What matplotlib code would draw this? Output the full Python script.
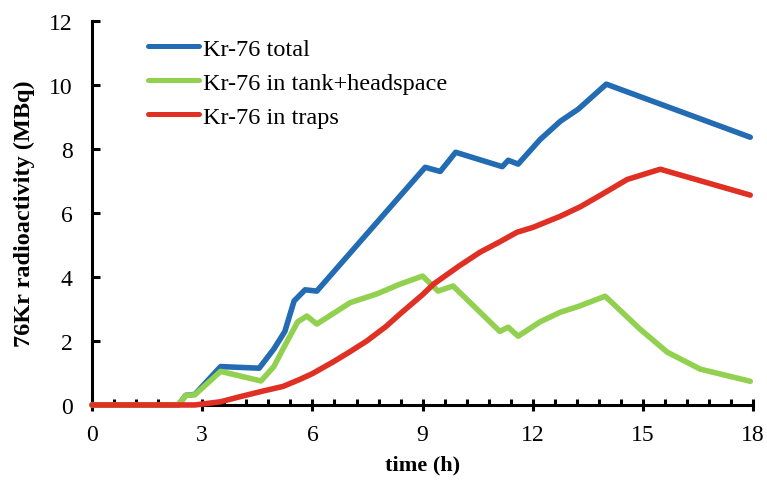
import matplotlib
matplotlib.use("Agg")
import matplotlib.pyplot as plt
from matplotlib.ticker import MultipleLocator

plt.rcParams['font.family'] = ['Liberation Serif', 'DejaVu Serif']

# Kr-76 total activity (MBq) vs time (h)
t_total = [0, 2.35, 2.55, 2.8, 3.5, 4.55, 4.95, 5.25, 5.5, 5.8, 6.12, 7.75, 9.07, 9.48,
           9.9, 11.17, 11.33, 11.6, 12.2, 12.75, 13.24, 14.0, 17.92]
total = [0, 0, 0.3, 0.33, 1.2, 1.15, 1.75, 2.3, 3.25, 3.6, 3.56, 5.7, 7.43, 7.3,
         7.9, 7.45, 7.65, 7.53, 8.3, 8.87, 9.25, 10.03, 8.37]

# Kr-76 in tank + headspace
t_tank = [0, 2.35, 2.55, 2.8, 3.5, 4.6, 4.95, 5.2, 5.6, 5.85, 6.12, 7.03, 7.75, 8.39,
          9.0, 9.42, 9.83, 11.1, 11.33, 11.6, 12.2, 12.75, 13.24, 13.97, 14.92,
          15.66, 16.56, 17.92]
tank = [0, 0, 0.3, 0.32, 1.05, 0.75, 1.2, 1.75, 2.6, 2.78, 2.53, 3.2, 3.47, 3.78,
        4.03, 3.56, 3.72, 2.3, 2.43, 2.15, 2.6, 2.9, 3.08, 3.4, 2.37,
        1.65, 1.12, 0.74]

# Kr-76 in traps
t_traps = [0, 2.8, 3.5, 4.0, 4.6, 5.2, 5.66, 6.0, 6.57, 7.0, 7.48, 8.0, 8.39, 9.0,
           9.3, 10.0, 10.57, 11.1, 11.57, 12.0, 12.75, 13.3, 13.83, 14.57, 15.47, 17.92]
traps = [0, 0, 0.1, 0.25, 0.42, 0.58, 0.8, 0.98, 1.35, 1.65, 2.0, 2.45, 2.85, 3.45,
         3.78, 4.35, 4.78, 5.1, 5.4, 5.55, 5.9, 6.2, 6.55, 7.05, 7.37, 6.56]

labels = ["Kr-76 total", "Kr-76 in tank+headspace", "Kr-76 in traps"]
colors = ["#236BB2", "#92D050", "#E03024"]

fig = plt.figure(figsize=(7.67, 4.81), dpi=100)
ax = fig.add_axes([0.12, 0.156, 0.862, 0.798])

lw = 4.0
for t, v, c, lab in zip([t_total, t_tank, t_traps], [total, tank, traps], colors, labels):
    ax.plot(t, v, color=c, lw=lw, label=lab, solid_capstyle='round',
            solid_joinstyle='round', zorder=3, clip_on=False)

ax.set_xlim(0, 18)
ax.set_ylim(0, 12)
ax.xaxis.set_major_locator(MultipleLocator(3))
ax.xaxis.set_minor_locator(MultipleLocator(0.6))
ax.yaxis.set_major_locator(MultipleLocator(2))

for s in ['top', 'right']:
    ax.spines[s].set_visible(False)
for s in ['left', 'bottom']:
    ax.spines[s].set_linewidth(2.2)

ax.tick_params(axis='x', which='major', direction='inout', length=9, width=2.2,
               labelsize=17, pad=9)
ax.tick_params(axis='x', which='minor', direction='in', length=4, width=2.2)
ax.tick_params(axis='y', which='major', direction='in', length=6, width=2.2,
               labelsize=17, pad=14)

ax.set_xlabel("time (h)", fontsize=16, fontweight='bold', labelpad=7)
ax.set_ylabel("76Kr radioactivity (MBq)", fontsize=17.5, fontweight='bold', labelpad=10)

leg = ax.legend(loc='upper left', bbox_to_anchor=(0.063, 0.995), frameon=False,
                fontsize=17.5, handlelength=2.1, handletextpad=0.15,
                labelspacing=0.5, borderaxespad=0.2)
for line in leg.get_lines():
    line.set_linewidth(3.6)

fig.savefig("out.png", dpi=100)
